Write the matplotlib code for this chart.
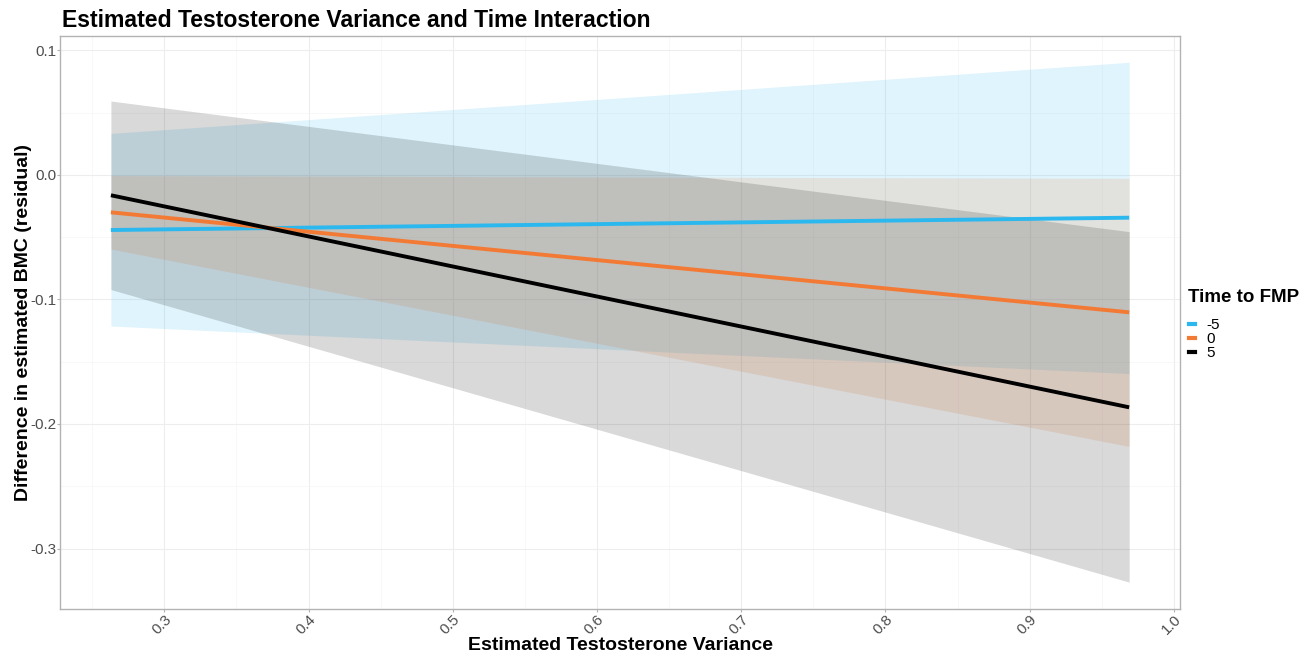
import matplotlib
matplotlib.use("Agg")
import matplotlib.pyplot as plt
from matplotlib.lines import Line2D
from matplotlib.ticker import MultipleLocator

# -----------------------------
# Data
# -----------------------------

x_range = [0.263, 0.969]
groups = ["-5", "0", "5"]
colors = ["#2BB8EE", "#F37A34", "#000000"]

fit = {
    "-5": [-0.0442, -0.0343],
    "0": [-0.0300, -0.1103],
    "5": [-0.0163, -0.1866],
}
lower = {
    "-5": [-0.1213, -0.1595],
    "0": [-0.0595, -0.2180],
    "5": [-0.0920, -0.3270],
}
upper = {
    "-5": [0.0334, 0.0905],
    "0": [-0.0005, -0.0027],
    "5": [0.0594, -0.0455],
}

plt.rcParams["font.family"] = ["Liberation Sans", "DejaVu Sans"]

fig = plt.figure(figsize=(13.16, 6.55), dpi=100)
ax = fig.add_axes([0.0456, 0.0702, 0.8511, 0.8748])

# ribbons first, lines on top (ggplot layer order)
for g, c in zip(groups, colors):
    ax.fill_between(x_range, lower[g], upper[g], color=c, alpha=0.15, linewidth=0)
for g, c in zip(groups, colors):
    ax.plot(x_range, fit[g], color=c, linewidth=2.8, solid_capstyle="butt")

ax.set_xlim(0.2277, 1.0043)
ax.set_ylim(-0.3486, 0.1116)

ax.xaxis.set_minor_locator(MultipleLocator(0.05))
ax.yaxis.set_minor_locator(MultipleLocator(0.05))
ax.set_yticks([0.1, 0.0, -0.1, -0.2, -0.3])
ax.set_yticklabels(["0.1", "0.0", "-0.1", "-0.2", "-0.3"])
ax.set_xticks([0.3, 0.4, 0.5, 0.6, 0.7, 0.8, 0.9, 1.0])
ax.set_xticklabels(["0.3", "0.4", "0.5", "0.6", "0.7", "0.8", "0.9", "1.0"])

ax.grid(which="major", color="#EDEDED", linewidth=0.8)
ax.grid(which="minor", color="#F5F5F5", linewidth=0.5)
ax.set_axisbelow(True)

for side in ax.spines.values():
    side.set_color("#B3B3B3")
    side.set_linewidth(1.0)

ax.tick_params(axis="both", which="major", length=2.5, color="#B3B3B3",
               labelsize=11, labelcolor="#4D4D4D", pad=0)
ax.tick_params(axis="both", which="minor", length=0)
plt.setp(ax.get_xticklabels(), rotation=45, ha="right", va="top", rotation_mode="anchor")

ax.set_xlabel("Estimated Testosterone Variance", fontsize=14, fontweight="bold", labelpad=0)
ax.set_ylabel("Difference in estimated BMC (residual)", fontsize=14, fontweight="bold", labelpad=-1)
fig.text(0.047, 0.969, "Estimated Testosterone Variance and Time Interaction",
         fontsize=16.6, fontweight="bold", ha="left", va="center")

# legend
fig.text(0.9027, 1 - 297 / 655, "Time to FMP", fontsize=13.5, fontweight="bold",
         ha="left", va="center")
handles = [Line2D([0], [0], color=c, linewidth=3) for c in colors]
fig.legend(handles, groups, loc="upper left",
           bbox_to_anchor=(0.9035, 1 - 318 / 655), frameon=False, fontsize=11,
           handlelength=0.4, handletextpad=0.75, labelspacing=0.0,
           borderaxespad=0, borderpad=0)

fig.savefig("out.png", dpi=100)
